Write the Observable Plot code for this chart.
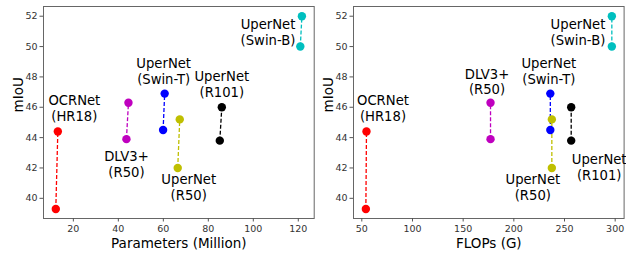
<!DOCTYPE html>
<html><head><meta charset="utf-8">
<script src="https://cdn.jsdelivr.net/npm/d3@7"></script>
<script src="https://cdn.jsdelivr.net/npm/@observablehq/plot@0.6"></script>
<style>
body{margin:0;background:#fff;}
#wrap{position:relative;width:626px;height:255px;overflow:hidden;font-family:"DejaVu Sans",sans-serif;}
#wrap svg{position:absolute;top:0;}
</style></head><body><div id="wrap"></div>
<script>
// ---- data ----
const methods = ["OCRNet", "DLV3+", "UperNet", "UperNet", "UperNet", "UperNet"];
const backbones = ["HR18", "R50", "Swin-T", "R50", "R101", "Swin-B"];
const paramsBase = [12.2, 43.6, 59.9, 66.4, 85.1, 120.9];
const paramsOurs = [13.1, 44.5, 60.6, 67.3, 86.0, 121.6];
const flopsBase = [54, 177, 236, 237.5, 256.6, 296.7];
const flopsOurs = [54.6, 177, 236, 237.5, 256.6, 296.7];
const miouBase = [39.3, 43.9, 44.5, 42.0, 43.8, 50.0];
const miouOurs = [44.4, 46.3, 46.9, 45.2, 46.0, 52.0];
const paramsTicks = [20, 40, 60, 80, 100, 120];
const flopsTicks = [50, 100, 150, 200, 250, 300];
const miouTicks = [40, 42, 44, 46, 48, 50, 52];
const xLabelParams = "Parameters (Million)";
const xLabelFlops = "FLOPs (G)";
const yLabel = "mIoU";

// ---- style ----
const colors = ["#ff0000", "#bf00bf", "#0000ff", "#bfbf00", "#000000", "#00bfbf"];
const FONT = "DejaVu Sans";

const leftLabels = [
  {ref: "ours", dx: 16.5, dy: -23.5, anchor: "middle"},
  {ref: "base", dx: 0, dy: 25, anchor: "middle"},
  {ref: "ours", dx: -1, dy: -22.7, anchor: "middle"},
  {ref: "base", dx: 11, dy: 19, anchor: "middle"},
  {ref: "ours", dx: 0, dy: -23, anchor: "middle"},
  {ref: "ours", dx: -6.5, dy: 15.4, anchor: "end"}
];
const rightLabels = [
  {ref: "ours", dx: 16.5, dy: -23.5, anchor: "middle"},
  {ref: "ours", dx: -3.5, dy: -21.2, anchor: "middle"},
  {ref: "ours", dx: -1.5, dy: -22.7, anchor: "middle"},
  {ref: "base", dx: -19, dy: 19, anchor: "middle"},
  {ref: "base", dx: 28, dy: 26.3, anchor: "middle"},
  {ref: "ours", dx: -6.5, dy: 15.4, anchor: "end"}
];

function panel({xBase, xOurs, xDomain, xTicks, xLabel, labels, width, marginLeft, marginRight, left}) {
  const rows = methods.map((m, i) => ({
    text: `${m}\n(${backbones[i]})`,
    xb: xBase[i], xo: xOurs[i], yb: miouBase[i], yo: miouOurs[i],
    color: colors[i]
  }));
  const textMarks = rows.map((r, i) => {
    const L = labels[i];
    return Plot.text([r], {
      x: L.ref === "ours" ? "xo" : "xb",
      y: L.ref === "ours" ? "yo" : "yb",
      text: "text", dx: L.dx, dy: L.dy, textAnchor: L.anchor,
      lineAnchor: "middle", lineHeight: 1.2,
      fontSize: 13.2, fontFamily: FONT, fill: "#000"
    });
  });
  const svg = Plot.plot({
    width, height: 255,
    marginLeft, marginRight, marginTop: 6, marginBottom: 37,
    style: {background: "transparent", overflow: "visible", fontFamily: FONT, color: "#333"},
    x: {domain: xDomain, label: null},
    y: {domain: [38.67, 52.64], label: null},
    color: {type: "identity"},
    marks: [
      Plot.frame({stroke: "#666", strokeWidth: 1}),
      Plot.axisX(xTicks, {tickSize: 3.5, tickPadding: 3, fontSize: 9.5, label: null, stroke: "#555"}),
      Plot.axisY(miouTicks, {tickSize: 3.5, tickPadding: 2.5, fontSize: 9.5, label: null, stroke: "#555"}),
      Plot.link(rows, {x1: "xb", y1: "yb", x2: "xo", y2: "yo", stroke: "color", strokeDasharray: "4,2", strokeWidth: 1.3}),
      Plot.dot(rows, {x: "xb", y: "yb", r: 4.2, fill: "color", stroke: null}),
      Plot.dot(rows, {x: "xo", y: "yo", r: 4.2, fill: "color", stroke: null}),
      ...textMarks,
      Plot.text([xLabel], {frameAnchor: "bottom", text: d => d, dy: 25.5, lineAnchor: "middle", fontSize: 13.5, fontFamily: FONT, fill: "#000"}),
      Plot.text([yLabel], {frameAnchor: "left", text: d => d, dx: -25, rotate: -90, lineAnchor: "middle", fontSize: 13.5, fontFamily: FONT, fill: "#000"})
    ]
  });
  svg.style.left = left + "px";
  return svg;
}

const wrap = document.getElementById("wrap");
wrap.appendChild(panel({
  xBase: paramsBase, xOurs: paramsOurs, xDomain: [6.73, 127.07], xTicks: paramsTicks,
  xLabel: xLabelParams, labels: leftLabels, width: 316, marginLeft: 43, marginRight: 2.3, left: 0
}));
wrap.appendChild(panel({
  xBase: flopsBase, xOurs: flopsOurs, xDomain: [41.8, 308.8], xTicks: flopsTicks,
  xLabel: xLabelFlops, labels: rightLabels, width: 313, marginLeft: 40, marginRight: 2.4, left: 313
}));
</script></body></html>
